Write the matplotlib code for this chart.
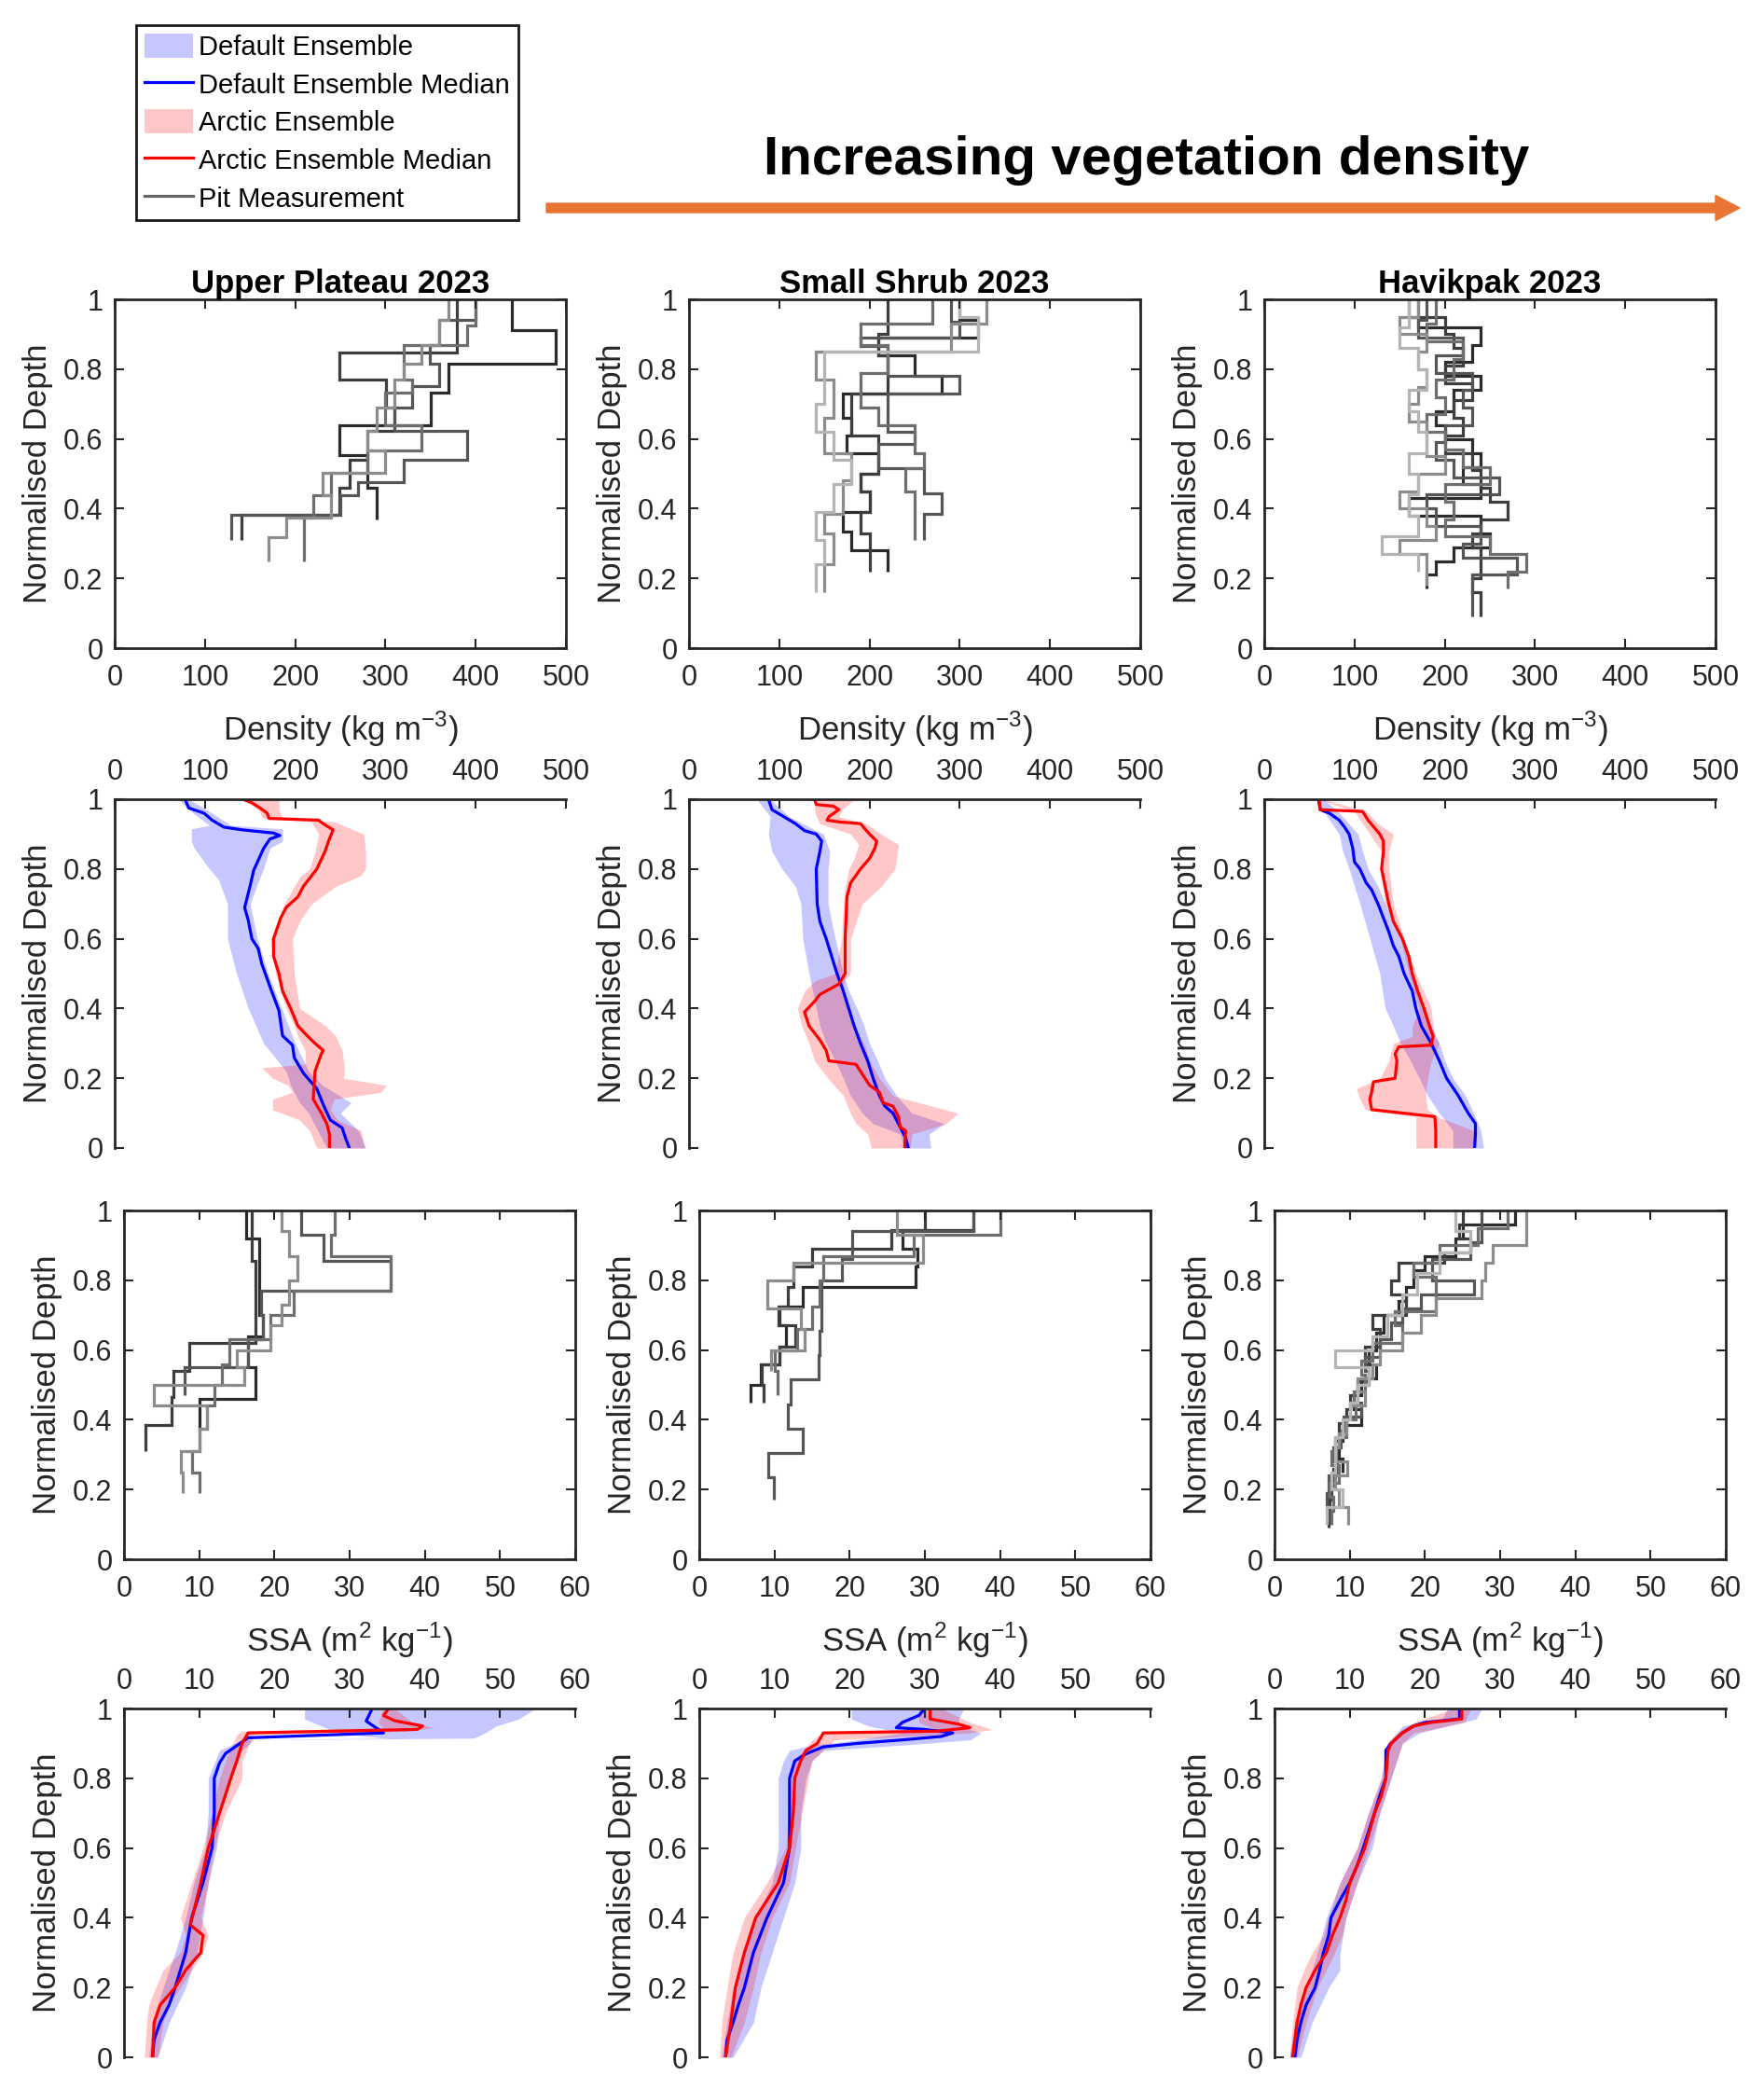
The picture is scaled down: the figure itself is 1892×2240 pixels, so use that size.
import numpy as np
import matplotlib
matplotlib.use("Agg")
import matplotlib.pyplot as plt
from matplotlib.lines import Line2D
from matplotlib.patches import Patch, FancyArrow

plt.rcParams["font.family"] = ["Liberation Sans", "DejaVu Sans"]
plt.rcParams["text.color"] = "#262626"
plt.rcParams["axes.labelcolor"] = "#262626"
plt.rcParams["xtick.color"] = "#262626"
plt.rcParams["ytick.color"] = "#262626"

sites = ["Upper Plateau 2023", "Small Shrub 2023", "Havikpak 2023"]
pit_grays = ["#2b2b2b", "#3d3d3d", "#555555", "#6e6e6e", "#8c8c8c", "#b4b4b4"]

# ---- pit measurements: density (layer edges from top, value per layer) ----
up_rho_edges = [
    [1, .912, .816, .733, .64, .553, .461, .37],
    [1, .848, .77, .69, .622, .539, .461, .382, .31],
    [1, .94, .87, .816, .751, .69, .622, .539, .475, .438, .382, .31],
    [1, .926, .87, .77, .733, .64, .567, .502, .438, .373, .25],
    [1, .94, .87, .816, .77, .69, .622, .567, .502, .438, .373, .318, .25],
]
up_rho_vals = [
    [440, 489, 370, 350, 249, 280, 290],
    [379, 249, 301, 310, 280, 260, 249, 140],
    [400, 360, 349, 360, 330, 310, 391, 320, 270, 250, 129],
    [400, 390, 320, 330, 300, 340, 280, 240, 220, 210],
    [370, 360, 340, 320, 310, 290, 280, 300, 230, 240, 190, 170],
]

ss_rho_edges = [
    [1, .94, .89, .84, .78, .73, .66, .61, .56, .5, .45, .39, .335, .28, .22],
    [1, .9, .84, .73, .61, .5, .45, .39, .33, .22],
    [1, .935, .89, .865, .78, .73, .62, .585, .515, .445, .385, .31],
    [1, .93, .87, .79, .69, .64, .56, .515, .45, .385, .31],
    [1, .93, .85, .77, .66, .56, .48, .385, .33, .24, .16],
    [1, .95, .85, .7, .62, .54, .47, .39, .31, .24, .16],
]
ss_rho_vals = [
    [300, 320, 210, 250, 280, 170, 180, 175, 210, 190, 200, 170, 180, 220],
    [220, 210, 220, 180, 210, 190, 200, 190, 200],
    [290, 300, 190, 220, 300, 220, 250, 210, 260, 280, 260],
    [270, 190, 220, 190, 210, 250, 260, 240, 250, 250],
    [330, 290, 140, 160, 150, 180, 170, 150, 160, 150],
    [300, 320, 150, 140, 160, 180, 160, 140, 150, 140],
]

hv_rho_edges = [
    [1, .92, .87, .82, .78, .74, .68, .64, .6, .56, .52, .47, .43, .38, .33, .29, .25, .21, .17],
    [1, .95, .9, .86, .81, .76, .71, .66, .61, .56, .51, .46, .42, .37, .33, .29, .24, .2, .16, .12, .09],
    [1, .94, .89, .84, .79, .74, .69, .64, .59, .54, .49, .44, .4, .35, .3, .26, .21, .17, .13, .09],
    [1, .93, .88, .83, .77, .72, .67, .62, .57, .52, .47, .42, .37, .32, .27, .22, .17],
    [1, .95, .9, .85, .8, .75, .7, .65, .6, .55, .5, .45, .4, .35, .31, .27, .22, .18],
    [1, .92, .86, .8, .74, .68, .62, .56, .5, .44, .38, .32, .27, .22],
]
hv_rho_vals = [
    [170, 240, 230, 200, 240, 210, 190, 200, 230, 240, 220, 240, 160, 240, 250, 210, 190, 180],
    [160, 200, 210, 220, 200, 230, 210, 220, 200, 230, 240, 250, 270, 240, 230, 240, 240, 230, 240, 240],
    [180, 170, 220, 190, 230, 220, 230, 200, 190, 210, 260, 180, 190, 240, 220, 280, 230, 230, 230],
    [190, 180, 220, 210, 190, 200, 180, 200, 220, 250, 200, 210, 200, 250, 290, 270],
    [170, 150, 180, 170, 180, 170, 160, 180, 180, 200, 170, 150, 180, 190, 150, 180, 180],
    [160, 150, 170, 180, 160, 170, 180, 160, 170, 160, 170, 130, 170],
]

# ---- pit measurements: SSA ----
up_ssa_edges = [
    [1, .92, .78, .7, .64, .55, .46, .37],
    [1, .855, .77, .62, .54, .465, .385, .31],
    [1, .93, .855, .77, .7, .63, .55, .47],
    [1, .93, .87, .77, .7, .63, .56, .5, .44, .375, .31, .25, .19],
    [1, .94, .87, .8, .73, .67, .6, .55, .5, .44, .375, .31, .25, .19],
]
up_ssa_vals = [
    [16.2, 18, 18, 18.5, 16.5, 17.5, 10],
    [17, 17.5, 17.5, 8.7, 6.6, 6.3, 2.8],
    [23.5, 26.5, 35.5, 18.2, 18.5, 16.5, 8],
    [28, 27.5, 35.5, 22.5, 19.5, 14, 13, 12, 11, 10, 9, 10],
    [21, 22, 23, 22, 21, 19.5, 15, 16, 4, 11, 10, 7.5, 7.8],
]

ss_ssa_edges = [
    [1, .945, .89, .84, .78, .725, .67, .61, .56, .5, .45],
    [1, .945, .89, .84, .78, .725, .67, .61, .56, .5, .45],
    [1, .94, .86, .8, .73, .655, .585, .515, .445, .375, .305, .235, .17],
    [1, .93, .87, .8, .725, .66, .6, .54, .47],
    [1, .93, .85, .8, .72, .66, .6, .54],
]
ss_ssa_vals = [
    [36.5, 27, 29, 28.8, 13.8, 10.6, 11.5, 10.6, 8.2, 6.8],
    [30, 25.5, 15, 12.5, 11.8, 10.5, 12.8, 10.6, 8.3, 8.5],
    [36.5, 20.3, 19, 16.2, 16.3, 16, 15.9, 12.2, 11.8, 13.7, 9.2, 9.9],
    [40, 28.5, 16.5, 16, 15, 13, 10, 10.4],
    [26.3, 29.7, 12.5, 9, 13.5, 14, 9.6],
]

hv_ssa_edges = [
    [1, .96, .92, .87, .83, .78, .74, .7, .65, .6, .56, .52, .47, .43, .385, .34, .29, .25],
    [1, .96, .92, .88, .85, .8, .76, .7, .66, .61, .56, .51, .47, .43, .39, .34, .3, .26, .21, .17, .13, .09],
    [1, .95, .91, .86, .8, .76, .72, .68, .63, .58, .54, .5, .45, .41, .37, .32, .28, .24, .19, .15, .11],
    [1, .95, .9, .85, .81, .76, .71, .67, .62, .57, .53, .48, .44, .4, .35, .31, .27, .22, .18, .14, .1],
    [1, .95, .9, .85, .8, .75, .7, .65, .6, .56, .52, .48, .44, .4, .36, .32, .28, .24, .2, .15, .1],
    [1, .94, .88, .82, .76, .7, .64, .6, .55, .5, .45, .4, .35, .3, .25, .2, .15, .1],
]
hv_ssa_vals = [
    [32, 25, 24, 20, 18.5, 17.5, 16.5, 14.5, 13.5, 12.5, 13.5, 11.5, 10.5, 11.5, 9, 8.5, 9],
    [25, 24.5, 26, 22.5, 16.5, 15.5, 17.5, 13, 14, 12, 12.5, 11, 10, 9.5, 8.5, 8, 8.2, 7.8, 7.5, 7.3, 7.2],
    [27.5, 27.5, 26, 21, 26.5, 19.5, 17, 15.5, 14, 12, 12.5, 11, 11.5, 9.2, 8.8, 7.8, 8.3, 7.2, 7, 7.1],
    [31, 27, 22, 18.5, 21.5, 21.5, 16, 17, 13, 11.5, 12, 10.5, 10.8, 9.5, 8, 7.6, 8.5, 7.3, 7.8, 7.5],
    [33.5, 33.5, 29, 28, 27.5, 21.5, 19.5, 17, 14, 13, 11, 12, 10, 9.5, 8.5, 8.2, 9.7, 8, 8.5, 9.8],
    [24, 26, 22, 19, 17, 15, 13, 8, 12.5, 11, 10, 9, 8, 8, 7.5, 9, 7],
]

# ---- model ensembles: density ----
up_rho_def_z = [1.0, .975, .96, .94, .92, .912, .903, .896, .886, .859, .796, .751, .689, .653, .6, .572,
                .528, .456, .394, .322, .295, .259, .215, .17, .125, .08, .058, .027, 0]
up_rho_def_med = [78, 82, 99, 108, 121, 142, 176, 183, 172, 165, 154, 150, 144, 148, 152, 159, 163, 173,
                  182, 186, 197, 199, 209, 224, 231, 239, 252, 256, 260]
up_rho_def_bz = [1.0, .96, .925, .915, .88, .86, .8, .77, .7, .6, .5, .4, .3, .22, .18, .13, .1, .05, 0]
up_rho_def_lo = [70, 87, 105, 85, 85, 88, 105, 115, 125, 125, 135, 148, 165, 190, 195, 205, 215, 225, 235]
up_rho_def_hi = [82, 108, 129, 186, 186, 172, 165, 160, 150, 158, 170, 185, 200, 215, 230, 262, 250, 270, 278]
up_rho_arc_z = [1.0, .99, .975, .96, .945, .94, .93, .912, .88, .85, .8, .78, .75, .72, .69, .66, .6, .55,
                .5, .45, .4, .35, .32, .3, .28, .27, .22, .18, .14, .1, .07, .04, 0]
up_rho_arc_med = [142, 152, 161, 169, 171, 226, 231, 242, 237, 233, 224, 218, 209, 203, 190, 184, 176, 176,
                  182, 186, 195, 203, 214, 222, 231, 229, 222, 221, 220, 229, 235, 238, 238]
up_rho_arc_bz = [1.0, .97, .945, .935, .9, .85, .8, .78, .75, .7, .65, .6, .5, .4, .35, .32, .28, .24, .23,
                 .2, .18, .16, .14, .11, .08, .05, 0]
up_rho_arc_lo = [142, 159, 164, 218, 226, 222, 216, 206, 199, 188, 182, 173, 178, 190, 199, 203, 211, 211,
                 163, 175, 192, 197, 175, 175, 205, 216, 224]
up_rho_arc_hi = [182, 182, 186, 244, 276, 278, 278, 272, 245, 218, 205, 197, 199, 205, 234, 245, 252, 254,
                 254, 254, 301, 295, 243, 239, 247, 273, 277]

ss_rho_def_z = [1.0, .97, .95, .93, .91, .9, .88, .85, .8, .7, .65, .6, .55, .5, .45, .4, .35, .3, .25, .2,
                .15, .12, .1, .06, .03, 0]
ss_rho_def_med = [88, 92, 105, 118, 128, 141, 147, 145, 141, 142, 145, 152, 158, 164, 171, 177, 183, 190,
                  198, 204, 211, 217, 226, 234, 240, 243]
ss_rho_def_bz = [1.0, .95, .9, .85, .8, .75, .7, .6, .5, .45, .4, .35, .3, .25, .2, .15, .1, .07, .04, 0]
ss_rho_def_lo = [75, 90, 88, 92, 103, 118, 124, 126, 133, 137, 141, 145, 152, 162, 171, 179, 192, 204, 234, 238]
ss_rho_def_hi = [90, 111, 149, 156, 154, 154, 154, 162, 171, 177, 186, 194, 200, 209, 217, 230, 247, 283, 266, 268]
ss_rho_arc_z = [1.0, .985, .98, .97, .95, .94, .935, .93, .9, .88, .86, .83, .8, .76, .72, .6, .5, .47, .44,
                .42, .39, .35, .31, .28, .25, .24, .22, .18, .16, .13, .12, .09, .06, .05, 0]
ss_rho_arc_med = [139, 141, 160, 166, 155, 153, 166, 190, 200, 208, 206, 200, 190, 179, 175, 173, 173, 166,
                  145, 139, 128, 133, 145, 152, 155, 185, 190, 200, 211, 215, 226, 232, 234, 240, 239]
ss_rho_arc_bz = [1.0, .97, .95, .93, .9, .87, .83, .8, .75, .7, .6, .5, .48, .45, .4, .35, .3, .25, .2, .15,
                 .1, .07, .04, 0]
ss_rho_arc_lo = [139, 139, 141, 145, 179, 188, 183, 177, 173, 171, 169, 162, 140, 128, 120, 125, 133, 139,
                 154, 171, 179, 185, 198, 202]
ss_rho_arc_hi = [183, 170, 166, 196, 213, 232, 230, 228, 213, 192, 179, 179, 172, 171, 177, 183, 194, 200,
                 211, 226, 298, 285, 247, 245]

hv_rho_def_z = [1.0, .97, .96, .94, .92, .9, .86, .82, .8, .76, .74, .7, .66, .62, .58, .55, .5, .45, .4,
                .35, .3, .25, .2, .15, .1, .07, .04, 0]
hv_rho_def_med = [60, 62, 72, 83, 89, 94, 98, 100, 106, 113, 119, 126, 132, 138, 143, 149, 155, 164, 168,
                  174, 185, 194, 202, 215, 226, 234, 234, 233]
hv_rho_def_bz = [1.0, .95, .9, .85, .8, .75, .7, .6, .5, .4, .35, .3, .25, .2, .15, .1, .05, 0]
hv_rho_def_lo = [57, 70, 83, 87, 94, 100, 106, 117, 128, 134, 143, 151, 162, 172, 181, 194, 209, 209]
hv_rho_def_hi = [66, 87, 104, 109, 115, 126, 134, 151, 164, 177, 185, 194, 200, 209, 223, 232, 240, 243]
hv_rho_arc_z = [1.0, .97, .965, .94, .9, .88, .85, .8, .75, .7, .65, .62, .6, .55, .5, .45, .4, .35, .32,
                .295, .29, .27, .25, .2, .19, .16, .14, .11, .09, .05, 0]
hv_rho_arc_med = [61, 62, 109, 115, 128, 132, 132, 130, 134, 138, 143, 149, 153, 160, 164, 170, 177, 183,
                  187, 185, 149, 145, 147, 145, 121, 119, 117, 119, 189, 190, 190]
hv_rho_arc_bz = [1.0, .965, .93, .9, .85, .8, .7, .6, .5, .4, .35, .32, .3, .25, .2, .17, .14, .11, .09, .05, 0]
hv_rho_arc_lo = [60, 100, 109, 117, 130, 128, 134, 151, 160, 172, 164, 164, 143, 138, 128, 102, 106, 112,
                 168, 168, 168]
hv_rho_arc_hi = [66, 113, 126, 143, 138, 138, 143, 155, 168, 185, 187, 189, 194, 185, 181, 179, 179, 181,
                 191, 232, 232]

# ---- model ensembles: SSA ----
up_ssa_def_z = [1.0, .964, .93, .916, .871, .844, .8, .7, .6, .5, .4, .3, .25, .2, .15, .1, .05, 0]
up_ssa_def_med = [33, 32.2, 34.5, 16.5, 13.5, 12.7, 12, 12, 11.7, 10.5, 9, 8.2, 7.5, 6.8, 6, 4.8, 4, 3.8]
up_ssa_def_bz = [1.0, .97, .95, .93, .915, .91, .88, .8, .7, .6, .5, .4, .3, .2, .1, 0]
up_ssa_def_lo = [24, 24, 26.2, 28.5, 34.5, 15.7, 12.7, 11.2, 11.2, 10.8, 9.3, 8.2, 6.8, 5.2, 3.8, 3.3]
up_ssa_def_hi = [54.7, 52.5, 49.5, 48, 46.5, 17.2, 15.7, 14.2, 12.7, 12.3, 11.2, 10.5, 9.7, 8.2, 6, 4.5]
up_ssa_arc_z = [1.0, .98, .965, .95, .94, .93, .9, .85, .8, .7, .6, .5, .42, .38, .35, .3, .25, .2, .15, .1, 0]
up_ssa_arc_med = [35.2, 34.5, 36, 39.7, 39, 16.5, 15.7, 15, 14.2, 12.7, 11.2, 10.2, 9.3, 8.8, 10.5, 10.2,
                  8.2, 6.8, 4.8, 4, 3.8]
up_ssa_arc_bz = [1.0, .96, .945, .935, .925, .85, .8, .7, .6, .5, .4, .35, .3, .25, .2, .15, .1, 0]
up_ssa_arc_lo = [34.5, 33.8, 34.5, 15.7, 15, 13.5, 12.7, 11.7, 10.5, 9, 7.5, 8.2, 7.5, 5.2, 4.2, 3.3, 3, 2.7]
up_ssa_arc_hi = [36, 38.3, 41.2, 37.5, 17.2, 15.7, 15.7, 13.5, 12, 11.2, 10.2, 11.2, 10.5, 9, 7.5, 6, 5.2, 4.5]

ss_ssa_def_z = [1.0, .98, .96, .945, .94, .93, .92, .91, .9, .89, .87, .85, .8, .7, .6, .5, .4, .3, .2,
                .15, .1, .05, 0]
ss_ssa_def_med = [30, 29.2, 27, 26.2, 30, 33.7, 32.2, 27, 21, 16.5, 14.2, 12.7, 12, 12, 12, 11.2, 9, 7.2,
                  6, 5.2, 4.5, 3.7, 3.5]
ss_ssa_def_bz = [1.0, .97, .95, .93, .91, .895, .88, .85, .8, .7, .6, .5, .4, .3, .2, .1, 0]
ss_ssa_def_lo = [20.2, 20.2, 22.5, 27, 21, 15, 12, 11.2, 10.5, 10.5, 10.5, 9.7, 7.5, 6, 4.5, 3.7, 3]
ss_ssa_def_hi = [35.2, 34.5, 34.5, 37.5, 36, 27, 16.5, 15, 14.2, 13.5, 13.5, 12.7, 11.2, 9.7, 8.2, 7.2, 4.5]
ss_ssa_arc_z = [1.0, .97, .955, .945, .935, .93, .9, .88, .85, .8, .7, .6, .5, .4, .3, .2, .1, 0]
ss_ssa_arc_med = [30.7, 30.7, 34.5, 36, 31.5, 16.5, 15.7, 14.2, 13.5, 12.7, 12.5, 12, 10.5, 7.5, 6, 4.8, 4.2, 3.5]
ss_ssa_arc_bz = [1.0, .96, .94, .93, .91, .85, .8, .6, .5, .4, .3, .2, .1, 0]
ss_ssa_arc_lo = [29.2, 29.2, 31.5, 16.5, 15, 12.7, 12.2, 11.5, 9, 6, 4.5, 3.7, 3, 2.7]
ss_ssa_arc_hi = [32.2, 36, 39, 36, 18, 15, 14.5, 12.8, 12, 9.7, 8.2, 7.2, 6, 4.2]

hv_ssa_def_z = [1.0, .97, .96, .95, .93, .9, .88, .8, .75, .7, .6, .55, .5, .45, .4, .35, .3, .25, .2, .15,
                .1, .05, 0]
hv_ssa_def_med = [24.6, 24.6, 20, 18.5, 17, 15.5, 14.8, 14.8, 14, 13.3, 11.8, 11, 10, 8.7, 7.5, 7.2, 6.5,
                  6, 5.4, 4.2, 3.5, 3, 2.7]
hv_ssa_def_bz = [1.0, .97, .95, .93, .9, .8, .7, .6, .5, .4, .3, .25, .2, .1, 0]
hv_ssa_def_lo = [23, 22.3, 17, 16.3, 15, 14.2, 12.5, 11, 8.7, 6.9, 5.7, 5, 4.2, 2.7, 2]
hv_ssa_def_hi = [27.6, 26.8, 23, 19.3, 17, 15.5, 14, 13, 11, 9.5, 8.7, 8.7, 7.2, 5, 3.5]
hv_ssa_arc_z = [1.0, .97, .96, .95, .93, .9, .88, .8, .75, .7, .6, .55, .5, .45, .4, .35, .3, .25, .2, .15,
                .1, .05, 0]
hv_ssa_arc_med = [24.9, 24.9, 20.8, 18.5, 17, 15.5, 15.1, 14.8, 14.2, 13.3, 12, 11, 10, 9.5, 8.7, 7.7, 6.9,
                  5.4, 4.2, 3.5, 3, 2.7, 2.4]
hv_ssa_arc_bz = [1.0, .96, .93, .9, .8, .7, .6, .5, .4, .35, .3, .25, .2, .1, 0]
hv_ssa_arc_lo = [23.8, 18.5, 16.3, 15, 14.2, 12.5, 11, 8.7, 7.2, 6.5, 5, 3.9, 3, 2.4, 2]
hv_ssa_arc_hi = [26.1, 25.3, 18.5, 17, 15.5, 14, 12.5, 11, 9.5, 9, 8, 6.9, 5.7, 4.2, 3]

# ---------------------------------------------------------------------------
W, H = 1892, 2240
fig = plt.figure(figsize=(W / 100, H / 100), dpi=100)

BLUE, RED = "#0000ff", "#ff0000"
BAND_ALPHA = 0.22
TICK_FS, LABEL_FS = 22, 25
ydepth_ticks = [0, 0.2, 0.4, 0.6, 0.8, 1]
ydepth_labels = ["0", "0.2", "0.4", "0.6", "0.8", "1"]


def add_ax(left, top, width=484, height=374):
    return fig.add_axes([left / W, 1 - (top + height) / H, width / W, height / H])


def base_style(ax, xmax, xstep):
    ax.set_xlim(0, xmax)
    ax.set_ylim(0, 1)
    ax.set_xticks(np.arange(0, xmax + 1, xstep))
    ax.set_yticks(ydepth_ticks)
    ax.set_yticklabels(ydepth_labels)
    ax.tick_params(direction="in", length=7, width=1.5, labelsize=TICK_FS)
    ax.tick_params(axis="x", pad=12)
    ax.tick_params(axis="y", pad=9)
    for s in ax.spines.values():
        s.set_linewidth(2)
        s.set_color("#262626")
    ax.set_ylabel("Normalised Depth", fontsize=LABEL_FS, labelpad=8)


def obs_panel(ax, edges_list, vals_list, xmax, xstep, xlabel, title=None):
    for k, (e, v) in enumerate(zip(edges_list, vals_list)):
        ax.stairs(np.array(v)[::-1], np.array(e)[::-1], orientation="horizontal",
                  baseline=None, color=pit_grays[k % len(pit_grays)], lw=2.3)
    base_style(ax, xmax, xstep)
    ax.tick_params(top=True, right=True)
    ax.set_xlabel(xlabel, fontsize=LABEL_FS, labelpad=14)
    if title:
        ax.set_title(title, fontsize=LABEL_FS, fontweight="bold", pad=5, color="black")


def model_panel(ax, dz, dmed, dbz, dlo, dhi, az, amed, abz, alo, ahi, xmax, xstep):
    ax.fill_betweenx(dbz, dlo, dhi, color=BLUE, alpha=BAND_ALPHA, lw=0)
    ax.fill_betweenx(abz, alo, ahi, color=RED, alpha=BAND_ALPHA, lw=0)
    ax.plot(dmed, dz, color=BLUE, lw=2.3)
    ax.plot(amed, az, color=RED, lw=2.3)
    base_style(ax, xmax, xstep)
    ax.spines["right"].set_visible(False)
    ax.spines["bottom"].set_visible(False)
    ax.xaxis.tick_top()
    ax.tick_params(axis="x", top=True, bottom=False, labeltop=True, labelbottom=False, pad=10)
    ax.tick_params(axis="y", right=False)


col_left_a = [123, 739, 1356]
col_left_b = [133, 750, 1367]
rho_label = "Density (kg m$^{\\mathregular{-3}}$)"
ssa_label = "SSA (m$^{\\mathregular{2}}$ kg$^{\\mathregular{-1}}$)"

obs_rho = [(up_rho_edges, up_rho_vals), (ss_rho_edges, ss_rho_vals), (hv_rho_edges, hv_rho_vals)]
obs_ssa = [(up_ssa_edges, up_ssa_vals), (ss_ssa_edges, ss_ssa_vals), (hv_ssa_edges, hv_ssa_vals)]
mod_rho = [
    (up_rho_def_z, up_rho_def_med, up_rho_def_bz, up_rho_def_lo, up_rho_def_hi,
     up_rho_arc_z, up_rho_arc_med, up_rho_arc_bz, up_rho_arc_lo, up_rho_arc_hi),
    (ss_rho_def_z, ss_rho_def_med, ss_rho_def_bz, ss_rho_def_lo, ss_rho_def_hi,
     ss_rho_arc_z, ss_rho_arc_med, ss_rho_arc_bz, ss_rho_arc_lo, ss_rho_arc_hi),
    (hv_rho_def_z, hv_rho_def_med, hv_rho_def_bz, hv_rho_def_lo, hv_rho_def_hi,
     hv_rho_arc_z, hv_rho_arc_med, hv_rho_arc_bz, hv_rho_arc_lo, hv_rho_arc_hi),
]
mod_ssa = [
    (up_ssa_def_z, up_ssa_def_med, up_ssa_def_bz, up_ssa_def_lo, up_ssa_def_hi,
     up_ssa_arc_z, up_ssa_arc_med, up_ssa_arc_bz, up_ssa_arc_lo, up_ssa_arc_hi),
    (ss_ssa_def_z, ss_ssa_def_med, ss_ssa_def_bz, ss_ssa_def_lo, ss_ssa_def_hi,
     ss_ssa_arc_z, ss_ssa_arc_med, ss_ssa_arc_bz, ss_ssa_arc_lo, ss_ssa_arc_hi),
    (hv_ssa_def_z, hv_ssa_def_med, hv_ssa_def_bz, hv_ssa_def_lo, hv_ssa_def_hi,
     hv_ssa_arc_z, hv_ssa_arc_med, hv_ssa_arc_bz, hv_ssa_arc_lo, hv_ssa_arc_hi),
]

for c in range(3):
    ax = add_ax(col_left_a[c], 321)
    obs_panel(ax, *obs_rho[c], 500, 100, rho_label, title=sites[c])

    ax = add_ax(col_left_a[c], 857)
    model_panel(ax, *mod_rho[c], 500, 100)

    ax = add_ax(col_left_b[c], 1298)
    obs_panel(ax, *obs_ssa[c], 60, 10, ssa_label)

    ax = add_ax(col_left_b[c], 1832)
    model_panel(ax, *mod_ssa[c], 60, 10)

# legend
handles = [
    Patch(facecolor=BLUE, alpha=BAND_ALPHA, edgecolor="none"),
    Line2D([], [], color=BLUE, lw=2.3),
    Patch(facecolor=RED, alpha=BAND_ALPHA, edgecolor="none"),
    Line2D([], [], color=RED, lw=2.3),
    Line2D([], [], color="#666666", lw=2.3),
]
labels = ["Default Ensemble", "Default Ensemble Median", "Arctic Ensemble",
          "Arctic Ensemble Median", "Pit Measurement"]
leg = fig.legend(handles, labels, loc="upper left", bbox_to_anchor=(146 / W, 1 - 27 / H),
                 bbox_transform=fig.transFigure, fontsize=21, frameon=True, fancybox=False,
                 edgecolor="#1a1a1a", framealpha=1, borderpad=0.3, borderaxespad=0,
                 handlelength=1.8, handleheight=1.0, handletextpad=0.2, labelspacing=0.4)
leg.get_frame().set_linewidth(2)
for t in leg.get_texts():
    t.set_color("black")

# header
fig.text(1230 / W, 1 - 172 / H, "Increasing vegetation density", ha="center", va="center",
         fontsize=42, fontweight="bold", color="black")
arrow = FancyArrow(5.86, (H - 223) / 100, 12.80, 0, width=0.10, head_width=0.27, head_length=0.26,
                   length_includes_head=True, color="#ea7433", transform=fig.dpi_scale_trans)
fig.add_artist(arrow)

fig.savefig("out.png", dpi=100)
